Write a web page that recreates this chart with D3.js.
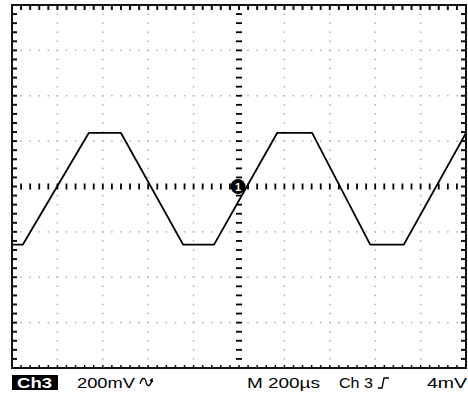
<!DOCTYPE html>
<html>
<head>
<meta charset="utf-8">
<script src="https://cdn.jsdelivr.net/npm/d3@7"></script>
<style>
  body { margin: 0; background: #fff; }
  svg text { font-family: "Liberation Sans", Arial, sans-serif; }
</style>
</head>
<body>
<div id="chart-area"></div>
<script>
// waveform: time in µs (200µs/div), voltage in mV (200mV/div)
const timeUs = [-1000, -952, -662, -520, -246, -110, 168, 322, 578, 726, 1000]
const voltMv = [-256, -256, 236, 236, -256, -256, 236, 236, -256, -256, 236]

// readout labels under the screen
const readouts = ["200mV", "M 200\u00b5s", "Ch 3", "4mV"]
const channelTag = "Ch3"

const svg = d3.select("#chart-area").append("svg")
    .attr("width", 468)
    .attr("height", 400)

const x = d3.scaleLinear().domain([-1000, 1000]).range([12, 466])
const y = d3.scaleLinear().domain([-800, 800]).range([368, 5])

const majorX = d3.range(-1000, 1001, 200)
const majorY = d3.range(-800, 801, 200)
const minorX = d3.range(-1000, 1001, 40)
const minorY = d3.range(-800, 801, 40)

// dotted grid
const grid = svg.append("g").attr("fill", "#b0b0b0")
majorX.filter(d => d !== 0 && Math.abs(d) !== 1000).forEach(gx => {
    grid.selectAll(null).data(minorY.filter(d => Math.abs(d) !== 800)).enter().append("rect")
        .attr("x", x(gx) - 0.75).attr("y", d => y(d) - 0.75)
        .attr("width", 1.5).attr("height", 1.5)
})
majorY.filter(d => d !== 0 && Math.abs(d) !== 800).forEach(gy => {
    grid.selectAll(null).data(minorX.filter(d => Math.abs(d) !== 1000)).enter().append("rect")
        .attr("x", d => x(d) - 0.75).attr("y", y(gy) - 0.75)
        .attr("width", 1.5).attr("height", 1.5)
})

// centre crosshair made of tick dashes
const cross = svg.append("g").attr("fill", "#000")
cross.selectAll(null).data(minorX.filter(d => Math.abs(d) !== 1000)).enter().append("rect")
    .attr("x", d => x(d) - 0.9).attr("y", y(0) - 3)
    .attr("width", 1.8).attr("height", 6)
cross.selectAll(null).data(minorY.filter(d => Math.abs(d) !== 800)).enter().append("rect")
    .attr("x", x(0) - 3).attr("y", d => y(d) - 0.9)
    .attr("width", 6).attr("height", 1.8)

// frame
svg.append("rect")
    .attr("x", 12).attr("y", 5)
    .attr("width", 454).attr("height", 363)
    .attr("fill", "none")
    .attr("stroke", "#111")
    .attr("stroke-width", 2)

// edge ticks
const edge = svg.append("g").attr("fill", "#111")
const inner = minorX.filter(d => Math.abs(d) !== 1000)
const innerY = minorY.filter(d => Math.abs(d) !== 800)
edge.selectAll(null).data(inner).enter().append("rect")
    .attr("x", d => x(d) - 1).attr("y", 5).attr("width", 2).attr("height", 5)
edge.selectAll(null).data(inner).enter().append("rect")
    .attr("x", d => x(d) - 0.75).attr("y", 365).attr("width", 1.5).attr("height", 3)
edge.selectAll(null).data(innerY).enter().append("rect")
    .attr("x", 12).attr("y", d => y(d) - 1).attr("width", 5).attr("height", 2)
edge.selectAll(null).data(innerY).enter().append("rect")
    .attr("x", 461).attr("y", d => y(d) - 1).attr("width", 5).attr("height", 2)

// waveform
const line = d3.line()
    .x((d, i) => x(timeUs[i]))
    .y(d => y(d))

svg.append("path")
    .datum(voltMv)
    .attr("d", line)
    .attr("fill", "none")
    .attr("stroke", "#000")
    .attr("stroke-width", 1.8)
    .attr("stroke-linejoin", "round")

// trigger marker
svg.append("circle")
    .attr("cx", x(0) - 1).attr("cy", y(0))
    .attr("r", 7.5)
    .attr("fill", "#000")
svg.append("text")
    .attr("x", x(0) - 1).attr("y", y(0) + 4)
    .attr("text-anchor", "middle")
    .attr("font-size", 11)
    .attr("font-weight", "bold")
    .attr("fill", "#fff")
    .text("1")

// readout line
svg.append("rect")
    .attr("x", 12).attr("y", 375)
    .attr("width", 46).attr("height", 15)
    .attr("fill", "#000")
svg.append("text")
    .attr("x", 17).attr("y", 388)
    .attr("font-size", 14)
    .attr("font-weight", "bold")
    .attr("fill", "#fff")
    .attr("textLength", 35)
    .attr("lengthAdjust", "spacingAndGlyphs")
    .text(channelTag)

const readoutX = [77, 247, 339, 427]
const readoutW = [58, 73, 34, 40]
svg.selectAll(null).data(readouts).enter().append("text")
    .attr("x", (d, i) => readoutX[i])
    .attr("y", 388)
    .attr("font-size", 14)
    .attr("fill", "#000")
    .attr("textLength", (d, i) => readoutW[i])
    .attr("lengthAdjust", "spacingAndGlyphs")
    .text(d => d)

// AC coupling symbol
svg.append("path")
    .attr("d", "M140,384 C142,377 145,377 146,382 C147,387 150,387 152,380 M150,381 l2,-2 l0.5,3")
    .attr("fill", "none")
    .attr("stroke", "#000")
    .attr("stroke-width", 1.3)

// rising edge trigger symbol
svg.append("path")
    .attr("d", "M378,388 h4 l2,-10 h5")
    .attr("fill", "none")
    .attr("stroke", "#000")
    .attr("stroke-width", 1.3)
</script>
</body>
</html>
